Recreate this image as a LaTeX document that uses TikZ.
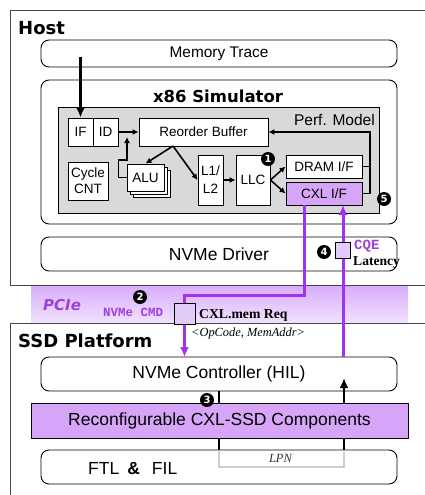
\documentclass[tikz,border=0pt]{standalone}
\usepackage{fontspec}
\setmainfont{Liberation Sans}
\newfontfamily\headfont{DejaVu Sans}
\newfontfamily\serifft{Liberation Serif}
\newfontfamily\monoft{Liberation Mono}
\usetikzlibrary{arrows.meta,calc}
\newcommand\fsz[2]{\fontsize{#1}{#2}\selectfont}
\definecolor{pfill}{RGB}{214,165,248}
\definecolor{pline}{RGB}{160,50,240}
\definecolor{psq}{RGB}{226,204,250}
\definecolor{ptext}{RGB}{160,64,215}
\definecolor{bandtop}{RGB}{216,172,250}
\definecolor{bandbot}{RGB}{240,226,253}
\definecolor{perfgray}{RGB}{217,217,217}
\definecolor{framegray}{RGB}{70,70,70}
\definecolor{lpngray}{RGB}{205,205,205}
\begin{document}
\begin{tikzpicture}[x=1pt,y=-1pt,
  box/.style={draw, fill=white, line width=0.9pt, inner sep=0pt, align=center},
  rbox/.style={box, rounded corners=8pt},
  sm/.style={font=\fsz{13.5}{16}},
  big/.style={font=\fsz{17.5}{20}},
  arr/.style={line width=1.6pt, -{Latex[length=6pt,width=6pt]}},
  ln/.style={line width=1.6pt},
  parr/.style={draw=pline, line width=3pt, -{Latex[length=10pt,width=9pt]}},
  badge/.style={circle, fill=black, text=white, inner sep=0pt, minimum size=14pt, font=\headfont\bfseries\fsz{10}{10}},
  lbl/.style={inner sep=0pt, anchor=base west},
  psquare/.style={draw, fill=psq, line width=0.9pt, inner sep=0pt},
]
\useasboundingbox (0,0) rectangle (425,495);
% PCIe band
\shade[top color=bandtop, bottom color=bandbot] (31,285) rectangle (408,323);
% outer frames
\node[draw=framegray, line width=1.3pt, minimum width=440pt, minimum height=275pt, anchor=north west, inner sep=0pt] (host) at (10,10) {};
\node[draw=framegray, line width=1.3pt, minimum width=440pt, minimum height=200pt, anchor=north west, inner sep=0pt] (ssd) at (10,323) {};
\node[lbl, font=\headfont\bfseries\fsz{18}{20}] (hostt) at (18,35) {Host};
\node[lbl, font=\headfont\bfseries\fsz{18}{20}] (ssdt) at (18,347) {SSD Platform};
% host contents
\node[rbox, minimum width=356pt, minimum height=27pt, font=\fsz{15.4}{18}] (mem) at (219,53.5) {Memory Trace};
\node[rbox, minimum width=356pt, minimum height=144pt] (x86) at (219,152) {};
\node[inner sep=0pt, anchor=base, font=\headfont\bfseries\fsz{16.5}{18}] (x86t) at (218,102) {x86 Simulator};
\node[draw, fill=perfgray, line width=0.9pt, minimum width=321pt, minimum height=106pt, inner sep=0pt] (perf) at (218.5,160) {};
\node[inner sep=0pt, anchor=base east, font=\fsz{15.5}{18}] (perft) at (375,125) {Perf. Model};
\node[box, sm, minimum width=25pt, minimum height=28pt] (if) at (80.5,132) {IF};
\node[box, sm, minimum width=25pt, minimum height=28pt] (id) at (105.5,132) {ID};
\node[box, sm, minimum width=129pt, minimum height=28pt] (rob) at (203.5,132) {Reorder Buffer};
\node[box, sm, minimum width=40pt, minimum height=38pt] (cyc) at (88,181) {Cycle\\CNT};
\node[box, minimum width=37pt, minimum height=27pt] (alu3) at (152,184) {};
\node[box, minimum width=37pt, minimum height=27pt] (alu2) at (148.8,180.8) {};
\node[box, sm, minimum width=37pt, minimum height=27pt] (alu) at (145.5,177.5) {ALU};
\node[box, font=\fsz{13.5}{18}, minimum width=25pt, minimum height=50pt] (l12) at (210.5,180) {L1/\\L2};
\node[box, sm, minimum width=34pt, minimum height=50pt] (llc) at (253,180) {LLC};
\node[box, sm, minimum width=76pt, minimum height=23pt] (dram) at (324,166.5) {DRAM I/F};
\node[box, sm, fill=pfill, minimum width=76pt, minimum height=23pt] (cxl) at (324,193.5) {CXL I/F};
% host arrows
\coordinate (mts) at (80.5,57);
\draw[line width=2.3pt, -{Latex[length=10pt,width=9pt]}] (mts) -- (if.north);
\draw[arr] (id.east) -- (rob.west);
\coordinate (fbtip) at (127,137);
\draw[arr] (alu.west) -- ++(-8,0) |- (127,160) -- (fbtip);
\coordinate (robs) at (173,146);
\draw[arr] (robs) -- (alu.north);
\draw[arr] (robs) -- (l12.west);
\draw[arr] (l12.east) -- (llc.west);
\draw[arr] (llc.east) -- (dram.west);
\draw[arr] (llc.east) -- (cxl.west);
\draw[ln] (dram.east) -- ++(7.5,0);
\draw[arr] (cxl.east) -- ++(7.5,0) |- (rob.east);
\node[badge] (b1) at (268,159) {1};
\node[badge] (b5) at (384,199) {5};
\node[rbox, big, minimum width=356pt, minimum height=34pt] (drv) at (219,254) {NVMe Driver};
% SSD contents
\node[rbox, big, minimum width=356pt, minimum height=34pt] (ctrl) at (219,374) {NVMe Controller (HIL)};
\node[rbox, minimum width=356pt, minimum height=34pt] (ftl) at (219,467) {};
\node[lbl, font=\fsz{17.5}{20}] (ftlt) at (88,474) {FTL\hspace{8pt}\textbf{\&}\hspace{12pt}FIL};
\coordinate (c1) at (219,450);
\coordinate (c2) at (344,450);
\coordinate (c3) at (344,378);
\draw[lpngray, line width=2.2pt] (c1) -- ++(0,17) -| (c2);
\draw[line width=2.2pt] (ctrl.south) -- (c1);
\draw[line width=2.2pt, -{Latex[length=10pt,width=9pt]}] (c2) -- (c3);
\node[inner sep=0pt, anchor=base, font=\serifft\itshape\fsz{12.5}{14}, text=black!80] (lpn) at (280.5,462) {LPN};
\node[draw, fill=pfill, line width=0.9pt, inner sep=0pt, big, minimum width=377pt, minimum height=35pt] (rcf) at (219.5,420.5) {Reconfigurable CXL-SSD Components};
\node[badge] (b3) at (207,400) {3};
% purple connectors
\coordinate (cxo) at (304,205);
\coordinate (cxi) at (343,205);
\coordinate (nin) at (184.5,357);
\coordinate (nout) at (343,357);
\draw[parr] (cxo) -- (304,295) -| (nin);
\draw[parr] (nout) -- (cxi);
\node[psquare, minimum width=21pt, minimum height=21pt] (req) at (184.5,313.5) {};
\node[psquare, minimum width=15pt, minimum height=16pt] (cqe) at (342.5,250) {};
\node[lbl, font=\headfont\bfseries\itshape\fsz{15}{18}, text=ptext] (pcie) at (43,310) {PCIe};
\node[badge] (b2) at (140,297) {2};
\node[lbl, font=\monoft\bfseries\fsz{12.5}{14}, text=ptext] (cmd) at (103,316) {NVMe CMD};
\node[lbl, font=\serifft\bfseries\fsz{13.7}{16}] (reqt) at (199,318) {CXL.mem Req};
\node[lbl, font=\serifft\itshape\fsz{12.4}{14}] (opc) at (191,336) {<OpCode, MemAddr>};
\node[badge] (b4) at (324,252) {4};
\node[lbl, font=\monoft\bfseries\fsz{14}{16}, text=ptext] (cqet) at (354,249) {CQE};
\node[lbl, font=\serifft\bfseries\fsz{13.6}{16}] (lat) at (353,265) {Latency};
\end{tikzpicture}
\end{document}
